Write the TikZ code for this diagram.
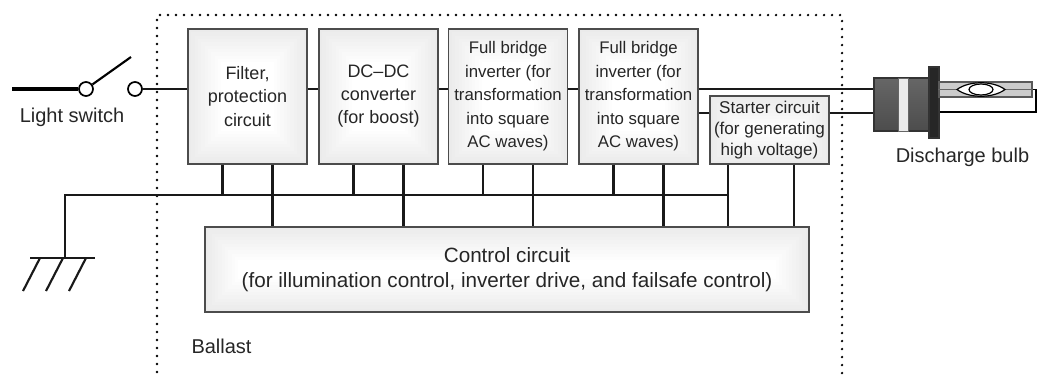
\documentclass[tikz,border=0pt]{standalone}
\usepackage{fontspec}
\setmainfont{Liberation Sans}
\usetikzlibrary{calc}

\tikzset{every picture/.style={line width=0.75pt}}
\tikzset{
  wire/.style={line width=1.6pt, black!90},
  unit/.style={draw=black!70, line width=1.1pt, fill=white, inner sep=1pt, align=center, text=black!85,
    path picture={\foreach \k in {1,...,10} \draw[black, opacity=.007, line width=\k*5pt] (path picture bounding box.south west) rectangle (path picture bounding box.north east);}},
  bigunit/.style={unit, minimum width=89.25pt, minimum height=101.25pt},
  contact/.style={circle, draw, line width=1.3pt, fill=white, minimum size=10.5pt, inner sep=0pt},
  lbl/.style={text=black!85, inner sep=0pt, font=\fontsize{15}{18}\selectfont},
}

\begin{document}
\begin{tikzpicture}[x=0.75pt,y=0.75pt,yscale=-1,xscale=1]
\useasboundingbox (0,0) rectangle (1038,376);
\clip (0,0) rectangle (1038,376);

%Ballast border (dotted)
\draw [line width=1.9pt, dash pattern=on 0pt off 6pt, line cap=round] (157,380) -- (157,15) -- (842,15) -- (842,380);

%Blocks
\node [bigunit, font=\fontsize{13.5}{17.3}\selectfont] (filter) at (247.5,96.5) {Filter,\\protection\\circuit};
\node [bigunit, font=\fontsize{13.5}{17.3}\selectfont] (dcdc) at (378.5,96.5) {DC--DC\\converter\\(for boost)};
\node [bigunit, font=\fontsize{12.6}{17.6}\selectfont] (inva) at (508,96.5) {Full bridge\\inverter (for\\transformation\\into square\\AC waves)};
\node [bigunit, font=\fontsize{12.6}{17.6}\selectfont] (invb) at (638.5,96.5) {Full bridge\\inverter (for\\transformation\\into square\\AC waves)};
\node [unit, minimum width=89.25pt, minimum height=51pt, font=\fontsize{12.8}{15.8}\selectfont] (starter) at (769.5,130) {Starter circuit\\(for generating\\high voltage)};
\node [unit, minimum width=453pt, minimum height=63.75pt, font=\fontsize{15.5}{18.8}\selectfont] (ctrl) at (507,269.5) {Control circuit\\(for illumination control, inverter drive, and failsafe control)};

%Light switch
\coordinate (feed) at (12,89);
\coordinate (lever) at (131,57);
\node [contact] (swa) at (86,89) {};
\node [contact] (swb) at (135,89) {};
\draw [line width=3pt] (feed) -- (swa.west);
\draw [line width=1.6pt] (swa) -- (lever);
\node [lbl] (swlabel) at (72,117) {Light switch};

%Discharge bulb
\node [draw=black!80, line width=.8pt, minimum width=42pt, minimum height=39.75pt, inner sep=0pt, top color=black!60, middle color=white, bottom color=black!70] (base) at (902,104.5) {};
\node [draw=black!60, line width=.6pt, minimum width=7.5pt, minimum height=39.75pt, inner sep=0pt, fill=black!8] (band) at (903,104.5) {};
\node [draw=black!80, line width=.8pt, minimum width=7.5pt, minimum height=53.25pt, inner sep=0pt, top color=black!85, middle color=black!20, bottom color=black!85] (flange) at (934,102.5) {};
\node [draw=black!65, line width=.8pt, minimum width=69.75pt, minimum height=11.25pt, inner sep=0pt, top color=black!20, middle color=white, bottom color=black!20] (tube) at (985.5,89.5) {};
\draw [black!60, line width=.6pt] (tube.west) -- (tube.east);
%Shape: Lens
\draw [fill=white, line width=.9pt] (957,89.5) .. controls (969,80.5) and (993,80.5) .. (1005,89.5) .. controls (993,98.5) and (969,98.5) .. (957,89.5) -- cycle;
%Shape: Ellipse
\draw [fill=white, line width=.9pt] (981,89.5) ellipse [x radius=12, y radius=5.5];
\coordinate (retn) at (1036,112);
\draw [line width=1.2pt] (tube.east) -| (retn) -- (retn -| flange.east);
\node [lbl] (bulblabel) at (962.5,157) {Discharge bulb};

\node [lbl, anchor=west] (ballast) at (191,346) {Ballast};

%Main power line
\draw [wire] (swb.east) -- (swb.east -| filter.west);
\foreach \a/\b in {filter/dcdc, dcdc/inva, inva/invb}
  \draw [wire] (\a.east |- swb) -- (\b.west |- swb);
\draw [wire] (invb.east |- swb) -- (swb -| base.west);
%Line through the starter
\coordinate (hva) at ($(starter.north west)!.25!(starter.south west)$);
\draw [wire] (hva) -- (hva -| invb.east);
\draw [wire] (hva -| starter.east) -- (hva -| base.west);

%Ground and bus
\coordinate (bus) at (65,195);
\coordinate (gnd) at (65,258);
\draw [wire] (gnd) -- ($(gnd)+(-35,0)$);
\draw [wire] (gnd) -- ($(gnd)+(30,0)$);
\foreach \dx in {-25,-2,21}
  \draw [wire] ($(gnd)+(\dx,0)$) -- ++(-17,33);

%Stubs to bus and control circuit
\foreach \n in {filter,dcdc,inva,invb}{
  \draw [wire] ($(\n.south)+(-25,0)$) coordinate (s) -- (s |- bus);
  \draw [wire] ($(\n.south)+(25,0)$) coordinate (t) -- (t |- ctrl.north);
}
\draw [wire] ($(starter.south)+(-41.5,0)$) coordinate (u) -- (u |- ctrl.north);
\draw [wire] ($(starter.south)+(24.5,0)$) coordinate (v) -- (v |- ctrl.north);
\draw [wire] (gnd) -- (bus) -- (bus -| u);

\end{tikzpicture}
\end{document}
